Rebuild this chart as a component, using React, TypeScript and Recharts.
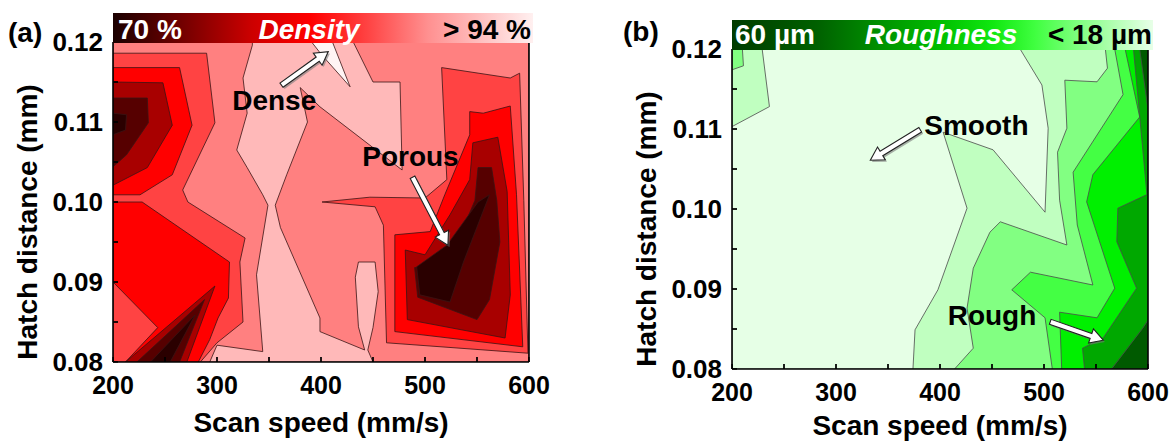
import React from 'react';
import { ScatterChart, Scatter, XAxis, YAxis, ReferenceLine, ReferenceDot } from 'recharts';

type Pt = [number, number];
type Layer = { pts: Pt[]; fill: string };
type ArrowDef = { from: Pt; to: Pt };
type NoteDef = { text: string; at: Pt };

const FONT = '"Liberation Sans", Arial, Helvetica, sans-serif';

// ---------- axes ----------
const speedTicks = [200, 250, 300, 350, 400, 450, 500, 550, 600];
const hatchTicks = [0.08, 0.085, 0.09, 0.095, 0.1, 0.105, 0.11, 0.115, 0.12];
const speedDomain: [number, number] = [200, 600];
const hatchDomain: [number, number] = [0.08, 0.12];

// ---------- (a) density contours (x: scan speed, y: hatch distance) ----------
const densityFrame: Pt[] = [[200, 0.08], [600, 0.08], [600, 0.12], [200, 0.12]];
const densityPinkBand: Pt[] = [
  [334, 0.12], [431, 0.12], [450, 0.115], [476, 0.115], [478, 0.104], [399, 0.1119], [380, 0.1143],
  [387, 0.11], [367, 0.1034], [356, 0.0996], [361, 0.0968], [399, 0.0855], [399, 0.0838], [442, 0.0815],
  [436, 0.0844], [433, 0.0906], [436, 0.0925], [452, 0.0925], [455, 0.0888], [450, 0.0843], [445, 0.0815],
  [450, 0.08], [293, 0.08], [300, 0.0821], [344, 0.0813], [338, 0.0909], [349, 0.0996], [344, 0.1009],
  [329, 0.1043], [319, 0.1065], [329, 0.1111], [325, 0.1155], [334, 0.1196],
];
const densityWhiteTip: Pt[] = [[391, 0.12], [411, 0.12], [428, 0.1144], [400, 0.1185]];
const densityLeft4: Pt[] = [
  [200, 0.1186], [290, 0.1186], [298, 0.1099], [267, 0.1015], [272, 0.1], [327, 0.0955], [322, 0.0925],
  [325, 0.085], [300, 0.0824], [284, 0.08], [200, 0.08],
];
const densityLeft3Top: Pt[] = [[200, 0.1168], [264, 0.1168], [276, 0.1096], [257, 0.1034], [226, 0.1009], [200, 0.1009]];
const densityLeft3Bottom: Pt[] = [
  [200, 0.1], [228, 0.1], [312, 0.0925], [311, 0.088], [301, 0.0855], [293, 0.0828], [282, 0.08],
  [212, 0.08], [243, 0.0843], [200, 0.09],
];
const densityLeft2: Pt[] = [[200, 0.115], [248, 0.1149], [257, 0.1096], [233, 0.1043], [200, 0.1021]];
const densityLeft1: Pt[] = [[200, 0.113], [233, 0.113], [234, 0.1099], [213, 0.1059], [200, 0.1044]];
const densityLeft0: Pt[] = [[200, 0.1111], [213, 0.1109], [212, 0.109], [200, 0.1084]];
const densitySpike2: Pt[] = [[212, 0.08], [298, 0.0895], [271, 0.08]];
const densitySpike1: Pt[] = [[223, 0.08], [288, 0.0878], [264, 0.08]];
const densitySpike0: Pt[] = [[236, 0.08], [279, 0.0859], [255, 0.08]];
const densityRight4: Pt[] = [
  [516, 0.1168], [521, 0.1028], [500, 0.1005], [447, 0.1006], [401, 0.1], [452, 0.0994], [460, 0.0971],
  [463, 0.0824], [599, 0.0811], [595, 0.1002], [591, 0.1161], [582, 0.1155],
];
const densityRight3: Pt[] = [
  [543, 0.1113], [556, 0.1111], [582, 0.112], [588, 0.1009], [594, 0.0819], [471, 0.0838], [471, 0.0959],
  [505, 0.0963], [519, 0.1009], [543, 0.1084],
];
const densityRight2: Pt[] = [
  [546, 0.1074], [570, 0.1081], [579, 0.1013], [582, 0.0884], [577, 0.083], [483, 0.0853], [481, 0.094],
  [500, 0.0934], [524, 0.0984], [543, 0.1028],
];
const densityRight1: Pt[] = [
  [551, 0.1043], [564, 0.1043], [569, 0.1002], [572, 0.095], [562, 0.0878], [550, 0.0853], [493, 0.0881],
  [490, 0.0918], [514, 0.0921], [534, 0.0959], [548, 0.1002],
];
const densityRight0: Pt[] = [
  [492, 0.0919], [521, 0.0946], [551, 0.1], [562, 0.1009], [537, 0.0925], [524, 0.0875], [495, 0.0884],
];
const densityArrows: ArrowDef[] = [
  { from: [362, 0.1146], to: [407, 0.1188] },
  { from: [488, 0.1031], to: [522, 0.0946] },
];
const densityNotes: NoteDef[] = [
  { text: 'Dense', at: [355, 0.1115] },
  { text: 'Porous', at: [486, 0.1045] },
];

// ---------- (b) roughness contours ----------
const roughFrame: Pt[] = [[200, 0.08], [600, 0.08], [600, 0.12], [200, 0.12]];
const rough1Main: Pt[] = [
  [374, 0.08], [376, 0.0849], [398, 0.0899], [426, 0.1001], [403, 0.1096], [451, 0.1074], [501, 0.0996],
  [504, 0.1101], [498, 0.1155], [477, 0.12], [600, 0.12], [600, 0.08],
];
const rough1Corner: Pt[] = [[200, 0.12], [229, 0.12], [236, 0.1128], [200, 0.1103]];
const rough2Main: Pt[] = [
  [414, 0.08], [432, 0.0826], [426, 0.0876], [432, 0.0926], [448, 0.0971], [458, 0.0984], [522, 0.0955],
  [515, 0.1011], [513, 0.1071], [522, 0.1101], [520, 0.1161], [551, 0.1159], [561, 0.1176], [559, 0.12],
  [600, 0.12], [600, 0.08],
];
const rough2Corner: Pt[] = [[200, 0.12], [210, 0.12], [211, 0.1179], [200, 0.1174]];
const rough3: Pt[] = [
  [508, 0.08], [501, 0.0864], [469, 0.0899], [487, 0.0921], [547, 0.0905], [532, 0.098], [528, 0.1046],
  [576, 0.1143], [568, 0.12], [600, 0.12], [600, 0.08],
];
const rough4: Pt[] = [
  [517, 0.08], [515, 0.0871], [551, 0.0864], [568, 0.0901], [541, 0.1009], [547, 0.1043], [592, 0.1115],
  [578, 0.12], [600, 0.12], [600, 0.08],
];
const rough5: Pt[] = [
  [539, 0.08], [537, 0.0826], [557, 0.0839], [589, 0.0901], [570, 0.0959], [571, 0.1001], [599, 0.1018],
  [586, 0.12], [600, 0.12], [600, 0.08],
];
const rough6: Pt[] = [[565, 0.08], [595, 0.0851], [600, 0.0861], [600, 0.08]];
const rough6Top: Pt[] = [[592, 0.12], [600, 0.12], [600, 0.1124]];
const roughArrows: ArrowDef[] = [
  { from: [381, 0.1099], to: [333, 0.1061] },
  { from: [506, 0.0859], to: [557, 0.0836] },
];
const roughNotes: NoteDef[] = [
  { text: 'Smooth', at: [435, 0.10925] },
  { text: 'Rough', at: [450, 0.0855] },
];

// ---------- colours ----------
const red = {
  base: '#ff8080', pink: '#ffb9b9', white: '#fff4f4', l4: '#ff4343', l3: '#ff0000', l2: '#a80000',
  l1: '#560000', l0: '#2a0000',
};
const green = {
  base: '#e6ffe6', l1: '#c0ffc0', l2: '#82ff82', l3: '#44ff44', l4: '#00f000', l5: '#00a800', l6: '#005a00',
};

const densityLayers: Layer[] = [
  { pts: densityFrame, fill: red.base },
  { pts: densityPinkBand, fill: red.pink },
  { pts: densityWhiteTip, fill: red.white },
  { pts: densityLeft4, fill: red.l4 },
  { pts: densityLeft3Top, fill: red.l3 },
  { pts: densityLeft3Bottom, fill: red.l3 },
  { pts: densityLeft2, fill: red.l2 },
  { pts: densityLeft1, fill: red.l1 },
  { pts: densityLeft0, fill: red.l0 },
  { pts: densitySpike2, fill: red.l2 },
  { pts: densitySpike1, fill: red.l1 },
  { pts: densitySpike0, fill: red.l0 },
  { pts: densityRight4, fill: red.l4 },
  { pts: densityRight3, fill: red.l3 },
  { pts: densityRight2, fill: red.l2 },
  { pts: densityRight1, fill: red.l1 },
  { pts: densityRight0, fill: red.l0 },
];
const roughLayers: Layer[] = [
  { pts: roughFrame, fill: green.base },
  { pts: rough1Main, fill: green.l1 },
  { pts: rough1Corner, fill: green.l1 },
  { pts: rough2Main, fill: green.l2 },
  { pts: rough2Corner, fill: green.l2 },
  { pts: rough3, fill: green.l3 },
  { pts: rough4, fill: green.l4 },
  { pts: rough5, fill: green.l5 },
  { pts: rough6, fill: green.l6 },
  { pts: rough6Top, fill: green.l6 },
];

// ---------- helpers ----------
const fmtSpeed = (v: number) => (v % 100 === 0 ? String(v) : '');
const fmtHatch = (v: number) => (Math.abs(v * 100 - Math.round(v * 100)) < 1e-6 ? v.toFixed(2) : '');
const closed = (pts: Pt[]) => [...pts, pts[0]].map(([x, y]) => ({ x, y }));
const NoDot = () => <g />;
const xTickMarks = speedTicks.map((x) => ({ x, y: hatchDomain[0] }));
const yTickMarks = hatchTicks.map((y) => ({ x: speedDomain[0], y }));
const XTickMark = (p: any) => <line x1={p.cx} x2={p.cx} y1={p.cy} y2={p.cy - 5} stroke="#000" strokeWidth={1.3} />;
const YTickMark = (p: any) => <line x1={p.cx} x2={p.cx + 5} y1={p.cy} y2={p.cy} stroke="#000" strokeWidth={1.3} />;

function ArrowLine(props: any) {
  const pts = props.points || [];
  if (pts.length < 2) return <g />;
  const x1 = pts[0].x, y1 = pts[0].y, x2 = pts[1].x, y2 = pts[1].y;
  const dx = x2 - x1;
  const dy = y2 - y1;
  const len = Math.hypot(dx, dy) || 1;
  const ux = dx / len, uy = dy / len;
  const nx = -uy, ny = ux;
  const hw = 2.6, head = 13, hh = 7.5;
  const bx = x2 - ux * head, by = y2 - uy * head;
  const poly = [
    [x1 + nx * hw, y1 + ny * hw], [bx + nx * hw, by + ny * hw], [bx + nx * hh, by + ny * hh], [x2, y2],
    [bx - nx * hh, by - ny * hh], [bx - nx * hw, by - ny * hw], [x1 - nx * hw, y1 - ny * hw],
  ].map((p) => p.join(',')).join(' ');
  return (
    <g>
      <polygon points={poly} transform="translate(1.6,1.8)" fill="#7a7a7a" opacity={0.6} />
      <polygon points={poly} fill="#ffffff" stroke="#222" strokeWidth={1.1} strokeLinejoin="miter" />
    </g>
  );
}

const makeNote = (text: string) => (props: any) => (
  <text x={props.cx} y={props.cy} textAnchor="middle" fontFamily={FONT} fontWeight="bold" fontSize={28} fill="#000">
    {text}
  </text>
);

const XTitle = (props: any) => {
  const vb = props.viewBox || {};
  return (
    <text x={vb.x + vb.width / 2} y={vb.y + props.dy} textAnchor="middle" fontFamily={FONT} fontWeight="bold" fontSize={28} fill="#000">
      Scan speed (mm/s)
    </text>
  );
};
const YTitle = (props: any) => {
  const vb = props.viewBox || {};
  const cx = vb.x + props.dx;
  const cy = vb.y + vb.height / 2 + props.dy;
  return (
    <text x={cx} y={cy} transform={`rotate(-90 ${cx} ${cy})`} textAnchor="middle" fontFamily={FONT} fontWeight="bold" fontSize={28} fill="#000">
      Hatch distance (mm)
    </text>
  );
};

type PanelProps = {
  left: number; width: number; height: number;
  margin: { top: number; right: number; bottom: number; left: number };
  layers: Layer[]; stroke: string; arrows: ArrowDef[]; notes: NoteDef[]; xTitleDy: number;
};

function ContourPanel(p: PanelProps) {
  return (
    <div style={{ position: 'absolute', left: p.left, top: 0 }}>
      <ScatterChart width={p.width} height={p.height} margin={p.margin}>
        {p.layers.map((l, i) => (
          <Scatter
            key={'layer' + i}
            data={closed(l.pts)}
            fill={l.fill}
            line={{ fill: l.fill, stroke: p.stroke, strokeWidth: 0.8, strokeLinejoin: 'round' }}
            lineType="joint"
            shape={NoDot}
            isAnimationActive={false}
          />
        ))}
        <Scatter data={xTickMarks} fill="#000" shape={XTickMark} isAnimationActive={false} />
        <Scatter data={yTickMarks} fill="#000" shape={YTickMark} isAnimationActive={false} />
        {p.arrows.map((a, i) => (
          <Scatter
            key={'arrow' + i}
            data={[{ x: a.from[0], y: a.from[1] }, { x: a.to[0], y: a.to[1] }]}
            fill="#fff"
            line={ArrowLine}
            lineType="joint"
            shape={NoDot}
            isAnimationActive={false}
          />
        ))}
        <XAxis
          type="number" dataKey="x" domain={speedDomain} ticks={speedTicks} tickFormatter={fmtSpeed}
          allowDataOverflow interval={0} height={40} tickSize={-5} tickMargin={19}
          axisLine={{ stroke: '#000', strokeWidth: 1.6 }} tickLine={{ stroke: '#000', strokeWidth: 1.3 }}
          tick={{ fill: '#000', fontSize: 25, fontWeight: 'bold', fontFamily: FONT }}
          label={<XTitle dy={p.xTitleDy} />}
          zIndex={1000}
        />
        <YAxis
          type="number" dataKey="y" domain={hatchDomain} ticks={hatchTicks} tickFormatter={fmtHatch}
          allowDataOverflow interval={0} width={70} tickSize={-5} tickMargin={15}
          axisLine={{ stroke: '#000', strokeWidth: 1.6 }} tickLine={{ stroke: '#000', strokeWidth: 1.3 }}
          tick={{ fill: '#000', fontSize: 26, fontWeight: 'bold', fontFamily: FONT }}
          label={<YTitle dx={-6} dy={20} />}
          zIndex={1000}
        />
        <ReferenceLine x={600} stroke="#000" strokeWidth={1.6} ifOverflow="visible" zIndex={1100} />
        {p.notes.map((n, i) => (
          <ReferenceDot key={'note' + i} x={n.at[0]} y={n.at[1]} r={0} shape={makeNote(n.text)} ifOverflow="visible" zIndex={1200} />
        ))}
      </ScatterChart>
    </div>
  );
}

export default function App() {
  const cbText = { fontFamily: FONT, fontWeight: 'bold' as const, fontSize: 28 };
  return (
    <div style={{ position: 'absolute', left: 0, top: 0, width: 1173, height: 441, background: '#fff', overflow: 'hidden' }}>
      <ContourPanel
        left={0} width={560} height={441}
        margin={{ top: 42, right: 31, bottom: 39, left: 43 }}
        layers={densityLayers} stroke="#3a1414" arrows={densityArrows} notes={densityNotes} xTitleDy={70}
      />
      <ContourPanel
        left={600} width={573} height={441}
        margin={{ top: 49, right: 25, bottom: 32, left: 62 }}
        layers={roughLayers} stroke="#4a4a4a" arrows={roughArrows} notes={roughNotes} xTitleDy={66}
      />
      <svg width={1173} height={441} style={{ position: 'absolute', left: 0, top: 0, pointerEvents: 'none' }}>
        <defs>
          <linearGradient id="densityGrad" x1="0" x2="1" y1="0" y2="0">
            <stop offset="0" stopColor="#1a0000" />
            <stop offset="0.16" stopColor="#700000" />
            <stop offset="0.33" stopColor="#cc0000" />
            <stop offset="0.47" stopColor="#ff0000" />
            <stop offset="0.61" stopColor="#ff4545" />
            <stop offset="0.75" stopColor="#ff9090" />
            <stop offset="0.97" stopColor="#ffe4e4" />
            <stop offset="1" stopColor="#fff0f0" />
          </linearGradient>
          <linearGradient id="roughGrad" x1="0" x2="1" y1="0" y2="0">
            <stop offset="0" stopColor="#003c00" />
            <stop offset="0.2" stopColor="#006000" />
            <stop offset="0.35" stopColor="#009000" />
            <stop offset="0.5" stopColor="#00c000" />
            <stop offset="0.62" stopColor="#10e810" />
            <stop offset="0.72" stopColor="#40ff40" />
            <stop offset="0.85" stopColor="#90ff90" />
            <stop offset="1" stopColor="#e8ffe8" />
          </linearGradient>
        </defs>
        <rect x={113} y={13} width={420} height={30} fill="url(#densityGrad)" />
        <text x={118} y={39} fill="#fff" {...cbText}>70 %</text>
        <text x={309} y={39} fill="#fff" textAnchor="middle" fontStyle="italic" {...cbText}>Density</text>
        <text x={531} y={39} fill="#000" textAnchor="end" {...cbText}>&gt; 94 %</text>

        <rect x={732} y={20} width={421} height={30} fill="url(#roughGrad)" />
        <text x={735} y={44} fill="#fff" {...cbText}>60 µm</text>
        <text x={941} y={44} fill="#fff" textAnchor="middle" fontStyle="italic" {...cbText}>Roughness</text>
        <text x={1152} y={44} fill="#000" textAnchor="end" {...cbText}>&lt; 18 µm</text>

        <text x={8} y={42} fill="#000" {...cbText}>(a)</text>
        <text x={623} y={41} fill="#000" {...cbText}>(b)</text>
      </svg>
    </div>
  );
}
